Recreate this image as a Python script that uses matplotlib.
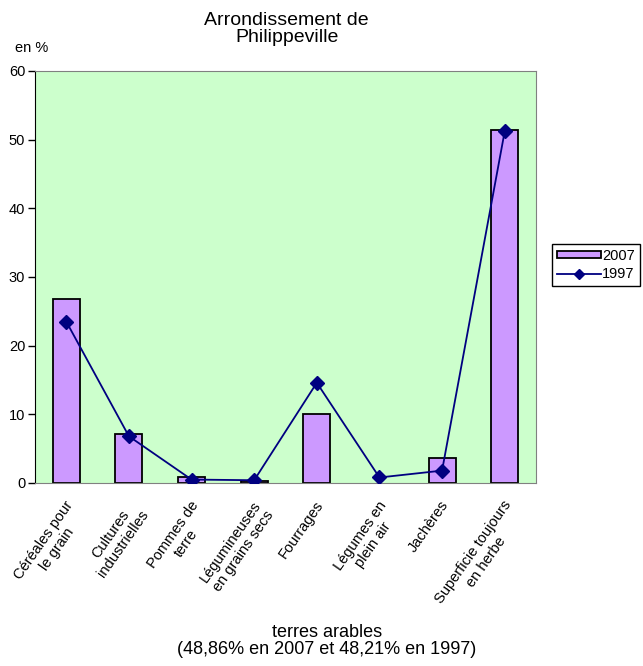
import numpy as np
import matplotlib.pyplot as plt
import matplotlib.transforms as mtransforms

plt.rcParams['font.family'] = ['Liberation Sans', 'DejaVu Sans']

categories = ["Céréales pour\nle grain", "Cultures\nindustrielles", "Pommes de\nterre",
              "Légumineuses\nen grains secs", "Fourrages", "Légumes en\nplein air",
              "Jachères", "Superficie toujours\nen herbe"]
vals_2007 = [26.8, 7.1, 0.8, 0.3, 10.0, np.nan, 3.7, 51.4]
vals_1997 = [23.5, 6.8, 0.5, 0.4, 14.6, 0.8, 1.8, 51.2]

fig = plt.figure(figsize=(6.43, 6.66), dpi=100)
ax = fig.add_axes([0.0544, 0.2748, 0.7792, 0.6186])
ax.set_facecolor('#CCFFCC')

x = np.arange(len(categories))
bars = ax.bar(x, vals_2007, width=0.43, color='#CC99FF', edgecolor='black', linewidth=1.3,
              label='2007', zorder=2)
line, = ax.plot(x, vals_1997, color='#000080', marker='D', markersize=7, linewidth=1.3,
                label='1997', zorder=3)

ax.set_xlim(-0.5, len(categories) - 0.5)
ax.set_ylim(0, 60)
ax.set_yticks(range(0, 61, 10))
ax.tick_params(axis='y', labelsize=10.5, length=5, direction='out', width=1, pad=2)
ax.tick_params(axis='x', length=0, pad=11)
ax.set_xticks(x)
ax.set_xticklabels(categories, rotation=55, ha='right', rotation_mode='anchor',
                   fontsize=10.5, multialignment='center', linespacing=1.2)
offset = mtransforms.ScaledTranslation(-2 / 100, 0, fig.dpi_scale_trans)
for lab in ax.get_xticklabels():
    lab.set_transform(lab.get_transform() + offset)

for s in ['top', 'right', 'bottom']:
    ax.spines[s].set_color('#808080')
ax.spines['left'].set_color('black')

fig.text(0.0233, 0.928, "en %", fontsize=10.5, ha='left', va='center')
fig.text(0.446, 0.956, "Arrondissement de\nPhilippeville", fontsize=14, ha='center', va='center',
         linespacing=1.0)
fig.text(0.508, 0.0375, "terres arables\n(48,86% en 2007 et 48,21% en 1997)", fontsize=13,
         ha='center', va='center', linespacing=1.0)

fig.legend([bars, line], ['2007', '1997'], loc='upper left', bbox_to_anchor=(0.858, 0.634),
           fontsize=10.5, frameon=True, fancybox=False, edgecolor='black', framealpha=1,
           handlelength=3.0, handleheight=0.4, borderpad=0.35, labelspacing=0.3,
           handletextpad=0.1, borderaxespad=0, markerscale=0.8)

fig.savefig('out.png', dpi=100)
